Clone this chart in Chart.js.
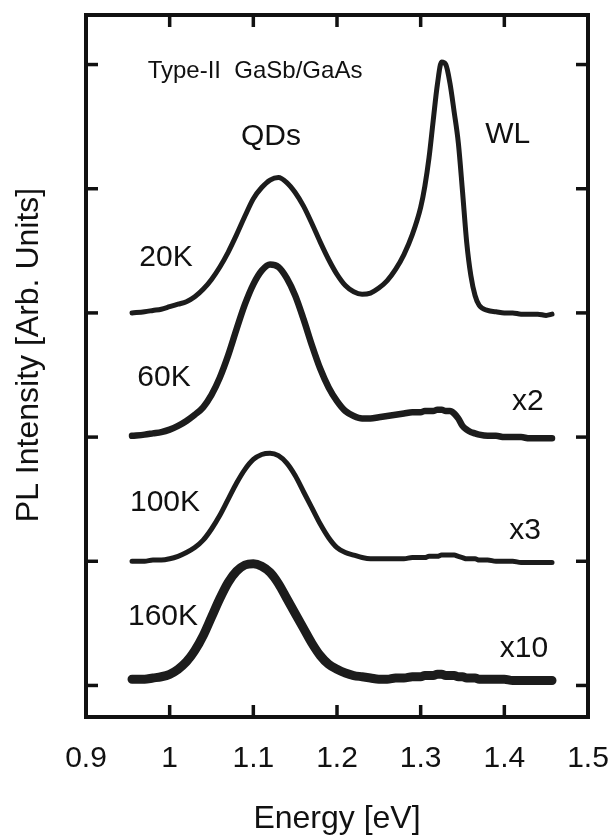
<!DOCTYPE html>
<html><head><meta charset="utf-8">
<script src="https://cdn.jsdelivr.net/npm/chart.js@4"></script>
<style>html,body{margin:0;padding:0;background:#fff}canvas{display:block}</style>
</head><body>
<canvas id="c" width="612" height="838"></canvas>
<script>
// ---- data ----
const energy = [0.955,0.97,0.98,0.99,1.00,1.01,1.02,1.03,1.04,1.05,1.06,1.07,1.08,1.09,1.10,1.11,1.12,1.13,1.14,1.15,1.16,1.17,1.18,1.19,1.20,1.21,1.22,1.23,1.24,1.25,1.26,1.27,1.28,1.29,1.30,1.305,1.31,1.315,1.32,1.325,1.33,1.335,1.34,1.345,1.35,1.355,1.36,1.365,1.37,1.38,1.39,1.40,1.41,1.42,1.43,1.44,1.45,1.457];
const pl20K = [3.00,3.01,3.02,3.03,3.05,3.07,3.09,3.13,3.19,3.27,3.37,3.49,3.63,3.78,3.92,4.01,4.07,4.09,4.05,3.97,3.86,3.72,3.57,3.43,3.31,3.22,3.17,3.15,3.16,3.20,3.26,3.35,3.47,3.63,3.85,4.02,4.25,4.55,4.84,5.02,5.00,4.85,4.62,4.37,3.98,3.57,3.30,3.14,3.06,3.02,3.01,3.00,3.00,2.99,2.99,2.99,2.98,2.99];
const pl60K = [2.01,2.02,2.03,2.04,2.06,2.09,2.13,2.18,2.24,2.34,2.48,2.66,2.87,3.07,3.23,3.34,3.39,3.37,3.28,3.14,2.95,2.74,2.55,2.40,2.29,2.21,2.17,2.15,2.15,2.16,2.17,2.18,2.19,2.20,2.20,2.21,2.21,2.21,2.22,2.22,2.21,2.21,2.19,2.15,2.09,2.06,2.04,2.03,2.02,2.01,2.01,2.00,2.00,2.00,1.99,1.99,1.99,1.99];
const pl100K = [1.00,1.00,1.01,1.01,1.02,1.04,1.07,1.11,1.17,1.26,1.37,1.50,1.63,1.74,1.82,1.86,1.87,1.85,1.79,1.69,1.56,1.43,1.30,1.19,1.11,1.07,1.05,1.03,1.02,1.02,1.02,1.02,1.02,1.03,1.03,1.03,1.04,1.04,1.04,1.05,1.05,1.05,1.05,1.04,1.03,1.02,1.02,1.02,1.01,1.01,1.00,1.00,1.00,0.99,0.99,0.99,0.99,0.99];
const pl160K = [0.05,0.05,0.06,0.07,0.09,0.13,0.19,0.28,0.40,0.55,0.70,0.83,0.92,0.97,0.98,0.96,0.91,0.82,0.70,0.58,0.46,0.34,0.24,0.17,0.13,0.10,0.08,0.07,0.06,0.05,0.05,0.06,0.06,0.07,0.07,0.08,0.08,0.08,0.09,0.09,0.08,0.08,0.08,0.07,0.07,0.06,0.06,0.06,0.05,0.05,0.05,0.05,0.04,0.04,0.04,0.04,0.04,0.04];
const xTickValues = [0.9,1.0,1.1,1.2,1.3,1.4,1.5];
const xTickLabels = ['0.9','1','1.1','1.2','1.3','1.4','1.5'];
const yTickValues = [0,1,2,3,4,5];
const labelTexts = ['Type-II  GaSb/GaAs','QDs','WL','20K','60K','100K','160K','x2','x3','x10'];
const xTitle = 'Energy [eV]';
const yTitle = 'PL Intensity [Arb. Units]';

// ---- layout / style ----
const FONT = "'Liberation Sans', Arial, Helvetica, sans-serif";
const INK = '#111';
const labelPos = [ // [energy, intensity, fontSize]
  [1.102,4.948,24],[1.121,4.416,30],[1.404,4.432,30],
  [0.9956,3.442,30],[0.9932,2.476,30],[0.9944,1.469,30],[0.992,0.552,30],
  [1.428,2.283,30],[1.4247,1.244,30],[1.4235,0.294,30]
];
const yTitlePos = {x: 29, y: 355, size: 32};
const lineWidths = [5, 6.5, 5, 9];

const series = [pl20K, pl60K, pl100K, pl160K];
const names = ['20K','60K','100K','160K'];

const framePlugin = {
  id: 'frame',
  afterDatasetsDraw(chart) {
    const {ctx, chartArea: a, scales: {x, y}} = chart;
    ctx.save();
    ctx.strokeStyle = INK;
    ctx.lineCap = 'butt';
    const seg = (x1, y1, x2, y2) => { ctx.beginPath(); ctx.moveTo(x1, y1); ctx.lineTo(x2, y2); ctx.stroke(); };
    ctx.lineWidth = 3.5;
    const tl = 12;
    xTickValues.forEach(v => {
      if (v <= x.min + 1e-9 || v >= x.max - 1e-9) return;
      const px = x.getPixelForValue(v);
      seg(px, a.bottom, px, a.bottom - tl);
      seg(px, a.top, px, a.top + tl);
    });
    yTickValues.forEach(v => {
      const py = y.getPixelForValue(v);
      seg(a.left, py, a.left + tl, py);
      seg(a.right, py, a.right - tl, py);
    });
    ctx.lineWidth = 4;
    ctx.strokeRect(a.left, a.top, a.right - a.left, a.bottom - a.top);
    ctx.fillStyle = INK;
    ctx.textAlign = 'center';
    ctx.textBaseline = 'middle';
    labelTexts.forEach((t, i) => {
      const [ex, ey, fs] = labelPos[i];
      ctx.font = fs + 'px ' + FONT;
      ctx.fillText(t, x.getPixelForValue(ex), y.getPixelForValue(ey));
    });
    ctx.translate(yTitlePos.x, yTitlePos.y);
    ctx.rotate(-Math.PI / 2);
    ctx.font = yTitlePos.size + 'px ' + FONT;
    ctx.fillText(yTitle, 0, 0);
    ctx.restore();
  }
};

new Chart(document.getElementById('c'), {
  type: 'line',
  data: {
    datasets: series.map((s, i) => ({
      label: names[i],
      data: energy.map((e, j) => ({x: e, y: s[j]})),
      borderColor: '#1c1c1c',
      borderWidth: lineWidths[i],
      pointRadius: 0,
      fill: false,
      cubicInterpolationMode: 'monotone',
      borderJoinStyle: 'round',
      borderCapStyle: 'round'
    }))
  },
  options: {
    responsive: false,
    animation: false,
    devicePixelRatio: 1,
    layout: {padding: {left: 0, right: 24, top: 15, bottom: 0}},
    plugins: {legend: {display: false}, tooltip: {enabled: false}},
    scales: {
      x: {
        type: 'linear', min: 0.9, max: 1.5,
        grid: {display: false, drawTicks: false},
        border: {display: false},
        afterBuildTicks: s => { s.ticks = xTickValues.map(v => ({value: v})); },
        afterFit: s => { s.height = 121; s.paddingLeft = 0; s.paddingRight = 0; },
        ticks: {
          autoSkip: false, maxRotation: 0, minRotation: 0, padding: 24,
          color: INK, font: {size: 30, family: FONT},
          callback: (v, i) => xTickLabels[i]
        },
        title: {display: true, text: xTitle, color: INK, font: {size: 32, family: FONT}, padding: {top: 0, bottom: 0}}
      },
      y: {
        type: 'linear', min: -0.254, max: 5.399,
        grid: {display: false, drawTicks: false},
        border: {display: false},
        ticks: {display: false},
        afterFit: s => { s.width = 86; },
        title: {display: false}
      }
    }
  },
  plugins: [framePlugin]
});
</script>
</body></html>
